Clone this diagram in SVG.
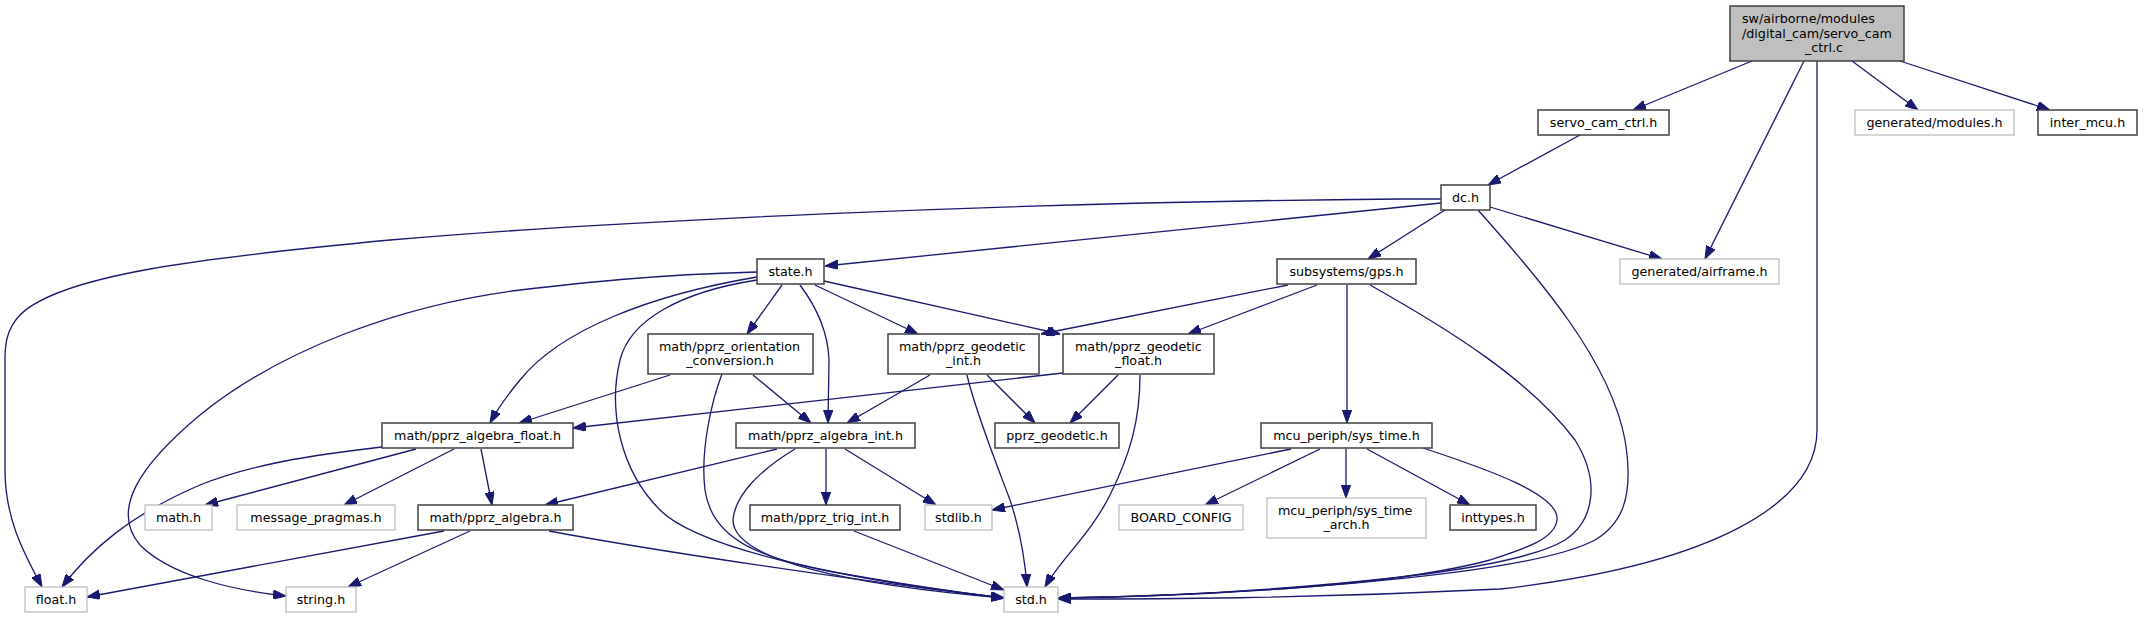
<svg xmlns="http://www.w3.org/2000/svg" width="2143" height="619" viewBox="0 0 2143 619">
<style>
.n{fill:#fff;stroke:#404040;stroke-width:1.5}
.g{fill:#fff;stroke:#bfbfbf;stroke-width:1.3}
.r{fill:#bfbfbf;stroke:#404040;stroke-width:1.5}
text{font-family:"DejaVu Sans","Liberation Sans",sans-serif;font-size:12.7px;fill:#000}
.m{text-anchor:middle}
.e path{fill:none;stroke:#191970;stroke-width:1.3;marker-end:url(#ah)}
</style>
<defs>
<marker id="ah" viewBox="0 0 13 9.4" refX="13" refY="4.7" markerWidth="13" markerHeight="9.4" orient="auto" markerUnits="userSpaceOnUse"><path d="M0,0 L13,4.7 L0,9.4 z" fill="#191970" stroke="#191970" stroke-width="1"/></marker>
</defs>
<rect x="0" y="0" width="2143" height="619" fill="#fff"/>
<g class="e" id="edges">
<path d="M1752,61 L1633,110"/>
<path d="M1804,61 L1705,259"/>
<path d="M1817,61 L1817,430 C1817,505 1710,565 1500,589 C1300,599 1150,599 1058,599"/>
<path d="M1852,61 L1918,110"/>
<path d="M1900,61 L2050,110"/>
<path d="M1580,135 L1488,185"/>
<path d="M1441,199 L1400,199 C1000,202 600,222 390,240 C200,258 60,275 20,315 C6,330 5,345 5,360 L5,470 C5,520 25,555 42,587"/>
<path d="M1441,203 L825,266"/>
<path d="M1445,210 L1368,259"/>
<path d="M1490,207 L1662,259"/>
<path d="M1478,210 C1540,280 1610,360 1625,440 C1635,500 1620,525 1595,540 C1520,580 1200,596 1058,598"/>
<path d="M757,272 C650,275 580,283 520,290 C400,305 280,350 200,415 C140,465 110,510 140,545 C170,575 230,590 286,596"/>
<path d="M757,277 C650,295 560,330 520,380 C505,398 497,410 490,423"/>
<path d="M757,280 C680,292 630,320 620,360 C608,410 620,470 660,510 C700,550 850,580 1004,598"/>
<path d="M782,285 L747,334"/>
<path d="M800,285 C815,305 828,330 829,360 L828,423"/>
<path d="M815,285 L918,334"/>
<path d="M824,281 L1060,334"/>
<path d="M1288,285 L1041,334"/>
<path d="M1317,285 L1188,334"/>
<path d="M1347,285 L1347,423"/>
<path d="M1370,285 C1450,330 1530,380 1575,440 C1600,480 1595,520 1565,540 C1500,580 1200,596 1058,598"/>
<path d="M670,375 L519,423"/>
<path d="M753,375 L811,423"/>
<path d="M722,374 C712,400 700,450 705,490 C712,540 760,560 850,575 C920,587 970,594 1004,598"/>
<path d="M930,375 L847,423"/>
<path d="M987,375 L1035,423"/>
<path d="M967,375 C975,410 995,460 1010,500 C1020,530 1025,560 1027,587"/>
<path d="M1063,373 L573,428"/>
<path d="M1118,375 L1070,423"/>
<path d="M1140,375 C1140,420 1130,455 1110,495 C1090,535 1060,560 1045,587"/>
<path d="M382,447 C310,455 250,465 200,485 C130,515 90,550 62,587"/>
<path d="M416,449 L205,505"/>
<path d="M454,449 L344,505"/>
<path d="M481,449 L492,505"/>
<path d="M777,449 L545,505"/>
<path d="M795,449 C760,470 735,495 733,520 C733,560 850,585 1004,598"/>
<path d="M826,449 L826,505"/>
<path d="M845,449 L936,505"/>
<path d="M444,531 L87,597"/>
<path d="M470,531 L348,587"/>
<path d="M549,531 C650,550 850,580 1004,598"/>
<path d="M854,531 L1004,590"/>
<path d="M1423,448 C1490,470 1560,495 1557,520 C1555,540 1520,550 1490,560 C1380,590 1150,597 1058,598"/>
<path d="M1291,449 L992,510"/>
<path d="M1320,449 L1205,505"/>
<path d="M1346,449 L1346,498"/>
<path d="M1367,449 L1470,505"/>
</g>
<g id="root"><rect class="r" x="1730" y="6" width="174" height="55"/><text x="1742" y="23">sw/airborne/modules</text><text x="1742" y="37.5">/digital_cam/servo_cam</text><text class="m" x="1824" y="52">_ctrl.c</text></g>
<g id="servo_cam_ctrl_h"><rect class="n" x="1538" y="110" width="131" height="25"/><text class="m" x="1603.5" y="127">servo_cam_ctrl.h</text></g>
<g id="generated_modules_h"><rect class="g" x="1855" y="110" width="159" height="25"/><text class="m" x="1934.5" y="127">generated/modules.h</text></g>
<g id="inter_mcu_h"><rect class="n" x="2038" y="110" width="99" height="25"/><text class="m" x="2087.5" y="127">inter_mcu.h</text></g>
<g id="dc_h"><rect class="n" x="1441" y="185" width="49" height="25"/><text class="m" x="1465.5" y="202">dc.h</text></g>
<g id="state_h"><rect class="n" x="757" y="259" width="67" height="25"/><text class="m" x="790.5" y="276">state.h</text></g>
<g id="gps_h"><rect class="n" x="1277" y="259" width="139" height="25"/><text class="m" x="1346.5" y="276">subsystems/gps.h</text></g>
<g id="generated_airframe_h"><rect class="g" x="1620" y="259" width="159" height="25"/><text class="m" x="1699.5" y="276">generated/airframe.h</text></g>
<g id="orientation"><rect class="n" x="648" y="334" width="165" height="40"/><text x="659" y="351">math/pprz_orientation</text><text class="m" x="730" y="365">_conversion.h</text></g>
<g id="geodetic_int"><rect class="n" x="888" y="334" width="151" height="40"/><text x="899" y="351">math/pprz_geodetic</text><text class="m" x="963.5" y="365">_int.h</text></g>
<g id="geodetic_float"><rect class="n" x="1063" y="334" width="151" height="40"/><text x="1075" y="351">math/pprz_geodetic</text><text class="m" x="1138.5" y="365">_float.h</text></g>
<g id="algebra_float"><rect class="n" x="382" y="423" width="191" height="25"/><text class="m" x="477.5" y="440">math/pprz_algebra_float.h</text></g>
<g id="algebra_int"><rect class="n" x="736" y="423" width="179" height="25"/><text class="m" x="825.5" y="440">math/pprz_algebra_int.h</text></g>
<g id="pprz_geodetic_h"><rect class="n" x="995" y="423" width="124" height="25"/><text class="m" x="1057" y="440">pprz_geodetic.h</text></g>
<g id="sys_time_h"><rect class="n" x="1261" y="423" width="171" height="25"/><text class="m" x="1346.5" y="440">mcu_periph/sys_time.h</text></g>
<g id="math_h"><rect class="g" x="145" y="505" width="67" height="25"/><text class="m" x="178.5" y="522">math.h</text></g>
<g id="message_pragmas_h"><rect class="g" x="237" y="505" width="158" height="25"/><text class="m" x="316" y="522">message_pragmas.h</text></g>
<g id="algebra_h"><rect class="n" x="418" y="505" width="155" height="25"/><text class="m" x="495.5" y="522">math/pprz_algebra.h</text></g>
<g id="trig_int_h"><rect class="n" x="750" y="505" width="150" height="25"/><text class="m" x="825" y="522">math/pprz_trig_int.h</text></g>
<g id="stdlib_h"><rect class="g" x="925" y="505" width="67" height="25"/><text class="m" x="958.5" y="522">stdlib.h</text></g>
<g id="board_config"><rect class="g" x="1119" y="505" width="124" height="25"/><text class="m" x="1181" y="522">BOARD_CONFIG</text></g>
<g id="sys_time_arch_h"><rect class="g" x="1267" y="498" width="159" height="40"/><text x="1278" y="515">mcu_periph/sys_time</text><text class="m" x="1346.5" y="529">_arch.h</text></g>
<g id="inttypes_h"><rect class="n" x="1450" y="505" width="86" height="25"/><text class="m" x="1493" y="522">inttypes.h</text></g>
<g id="float_h"><rect class="g" x="25" y="587" width="62" height="25"/><text class="m" x="56" y="604">float.h</text></g>
<g id="string_h"><rect class="g" x="286" y="587" width="70" height="25"/><text class="m" x="321" y="604">string.h</text></g>
<g id="std_h"><rect class="g" x="1004" y="587" width="54" height="25"/><text class="m" x="1031" y="604">std.h</text></g>
</svg>
